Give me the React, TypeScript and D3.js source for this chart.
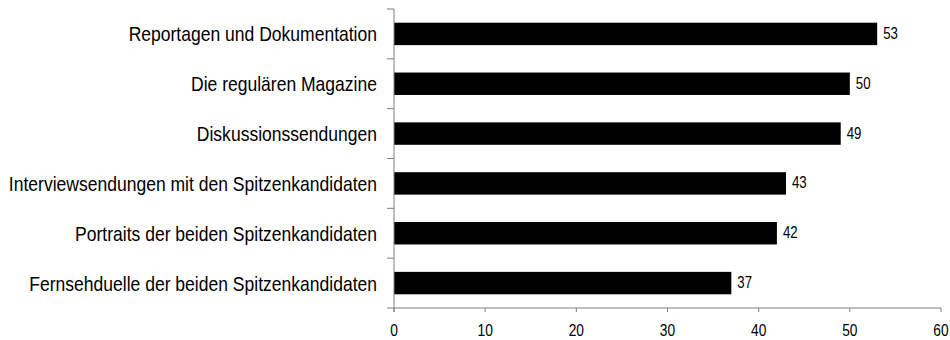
import React, { useEffect, useRef } from "react";
import * as d3 from "d3";

const categories = [
  "Reportagen und Dokumentation",
  "Die regulären Magazine",
  "Diskussionssendungen",
  "Interviewsendungen mit den Spitzenkandidaten",
  "Portraits der beiden Spitzenkandidaten",
  "Fernsehduelle der beiden Spitzenkandidaten",
];
const values = [53, 50, 49, 43, 42, 37];
const xTicks = [0, 10, 20, 30, 40, 50, 60];

const W = 950;
const H = 340;
const left = 394;
const right = 941;
const top = 9;
const bottom = 308;
const FONT = "'Liberation Sans', Arial, sans-serif";

export default function App() {
  const ref = useRef<SVGSVGElement>(null);
  useEffect(() => {
    const svg = d3.select(ref.current);
    svg.selectAll("*").remove();
    const x = d3.scaleLinear().domain([0, 60]).range([left, right]);
    const y = d3.scaleBand().domain(categories).range([top, bottom]).paddingInner(0.55).paddingOuter(0.275);
    const band = (bottom - top) / categories.length;
    const axisColor = "#808080";

    // bars
    svg.append("g").selectAll("rect").data(values).join("rect")
      .attr("x", x(0))
      .attr("y", (_, i) => y(categories[i])!)
      .attr("width", (d) => x(d) - x(0))
      .attr("height", y.bandwidth())
      .attr("fill", "#000");

    // y axis line
    svg.append("line").attr("x1", left).attr("x2", left).attr("y1", top).attr("y2", bottom + 4)
      .attr("stroke", axisColor).attr("stroke-width", 1);
    const bounds = d3.range(categories.length + 1).map((i) => top + i * band);
    svg.append("g").selectAll("line").data(bounds).join("line")
      .attr("x1", left - 7).attr("x2", left).attr("y1", (d) => d).attr("y2", (d) => d)
      .attr("stroke", axisColor).attr("stroke-width", 1);

    // x axis
    svg.append("line").attr("x1", left).attr("x2", right).attr("y1", bottom).attr("y2", bottom)
      .attr("stroke", axisColor).attr("stroke-width", 1);
    svg.append("g").selectAll("line").data(xTicks).join("line")
      .attr("x1", (d) => x(d)).attr("x2", (d) => x(d)).attr("y1", bottom).attr("y2", bottom + 4)
      .attr("stroke", axisColor).attr("stroke-width", 1);
    svg.append("g").selectAll("text").data(xTicks).join("text")
      .attr("transform", (d) => `translate(${x(d)},${336}) scale(0.86,1)`)
      .attr("text-anchor", "middle")
      .attr("font-family", FONT).attr("font-size", 16).attr("fill", "#000")
      .text((d) => String(d));

    // category labels
    svg.append("g").selectAll("text").data(categories).join("text")
      .attr("transform", (d) => `translate(${377},${y(d)! + y.bandwidth() / 2 + 7.5}) scale(0.835,1)`)
      .attr("text-anchor", "end")
      .attr("font-family", FONT).attr("font-size", 21).attr("fill", "#000")
      .text((d) => d);

    // value labels
    svg.append("g").selectAll("text").data(values).join("text")
      .attr("transform", (d, i) => `translate(${x(d) + 6},${y(categories[i])! + y.bandwidth() / 2 + 5}) scale(0.8,1)`)
      .attr("text-anchor", "start")
      .attr("font-family", FONT).attr("font-size", 16.5).attr("fill", "#000")
      .text((d) => String(d));
  }, []);
  return (
    <svg ref={ref} width={W} height={H} style={{ display: "block", position: "absolute", left: 0, top: 0, background: "#fff" }} />
  );
}
